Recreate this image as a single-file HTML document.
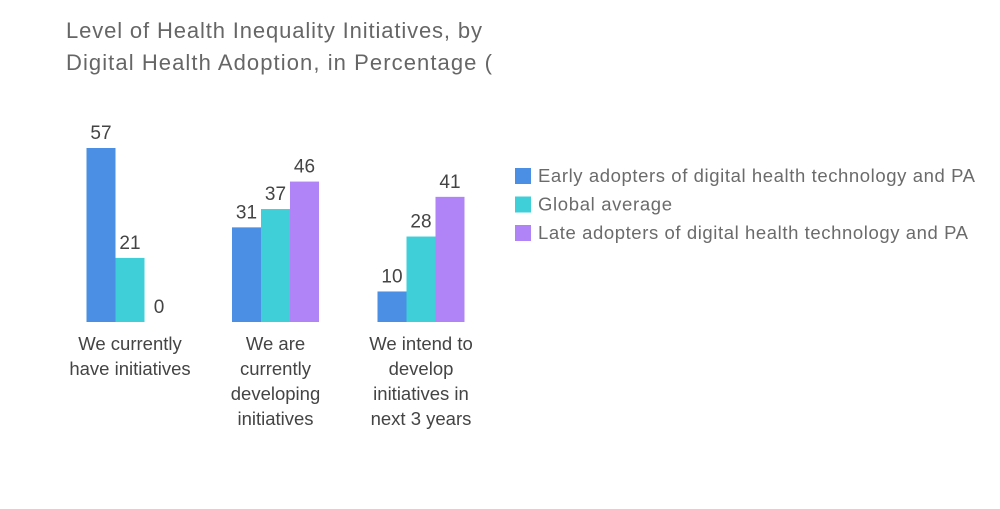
<!DOCTYPE html>
<html><head><meta charset="utf-8"><style>
body{margin:0;background:#fff;font-family:"Liberation Sans",sans-serif;}
svg text{font-family:"Liberation Sans",sans-serif;}
</style></head><body>
<svg width="1000" height="504">
<text x="66" y="38" font-size="22" fill="#666" textLength="416">Level of Health Inequality Initiatives, by</text>
<text x="66" y="70" font-size="22" fill="#666" textLength="426">Digital Health Adoption, in Percentage (</text>
<g id="bars"></g>
<g id="legend"></g>
</svg>
<script>
const categories=[["We currently","have initiatives"],["We are","currently","developing","initiatives"],["We intend to","develop","initiatives in","next 3 years"]];
const seriesNames=["Early adopters of digital health technology and PA","Global average","Late adopters of digital health technology and PA"];
const early=[57,31,10];
const globalAvg=[21,37,28];
const late=[0,46,41];
const colors=["#4a8fe3","#3ecfd8","#b084f7"];
const series=[early,globalAvg,late];
const legendLens=[437,134,430];
const ns="http://www.w3.org/2000/svg";
const base=322,scale=174/57,barW=29;
function x(i,s){return 130+i*145.5-43.5+s*barW;}
function y(v){return base-v*scale;}
const g=document.getElementById('bars');
function mk(t,a){const e=document.createElementNS(ns,t);for(const k in a)e.setAttribute(k,a[k]);return e;}
series.forEach((arr,s)=>arr.forEach((v,i)=>{
 if(v>0){
 const r=mk('rect',{x:x(i,s),y:y(v),width:barW,height:v*scale,fill:colors[s]});
 
 
 g.appendChild(r);
 }
 const t=mk('text',{x:x(i,s)+barW/2,y:y(v)-9,'text-anchor':'middle','font-size':19,fill:'#444'});
 t.textContent=v;
 
 
 g.appendChild(t);
}));
categories.forEach((lines,i)=>{
 lines.forEach((l,j)=>{
  const t=mk('text',{x:130+i*145.5,y:350+j*25,'text-anchor':'middle','font-size':18.5,fill:'#444'});
  t.textContent=l;
  
  
  g.appendChild(t);
 });
});
const lg=document.getElementById('legend');
seriesNames.forEach((n,s)=>{
 const r=mk('rect',{x:515,y:168+s*28.5,width:16,height:16,fill:colors[s]});
 
 
 lg.appendChild(r);
 const t=mk('text',{x:538,y:182+s*28.5,'font-size':18.5,fill:'#6b6b6b',textLength:legendLens[s]});
 t.textContent=n;
 
 
 lg.appendChild(t);
});
</script>
</body></html>
